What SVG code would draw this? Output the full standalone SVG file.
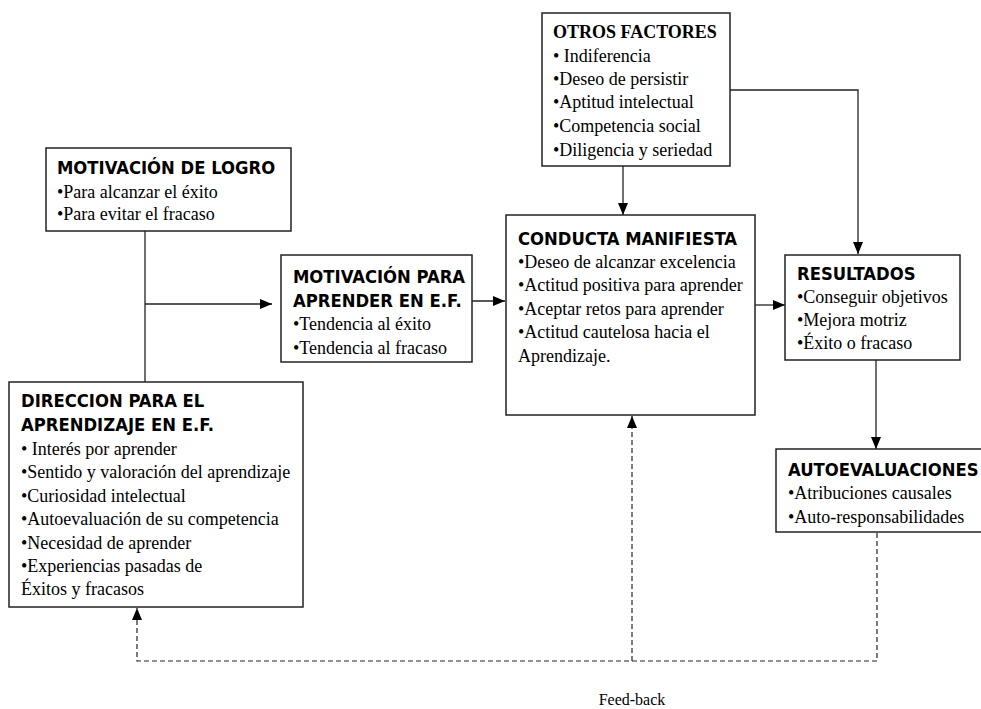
<svg xmlns="http://www.w3.org/2000/svg" width="981" height="709" viewBox="0 0 981 709">
<defs>
<style>
.box{fill:#fff;stroke:#222;stroke-width:1.5}
.t{font-family:"DejaVu Sans Condensed","DejaVu Sans",Verdana,sans-serif;font-stretch:condensed;font-weight:bold;font-size:18.3px;fill:#000}
.ts{font-family:"Liberation Serif","Times New Roman",serif;font-weight:bold;font-size:18px;fill:#000}
.b{font-family:"Liberation Serif","Times New Roman",serif;font-size:18px;fill:#000}
.ln{fill:none;stroke:#222;stroke-width:1.3}
.dl{fill:none;stroke:#222;stroke-width:1.2;stroke-dasharray:5,3}
</style>
<marker id="ah" viewBox="0 0 12 10" refX="12" refY="5" markerWidth="12" markerHeight="10" markerUnits="userSpaceOnUse" orient="auto">
<path d="M0,0 L12,5 L0,10 z" fill="#000"/>
</marker>
</defs>

<g id="connectors">
<line class="ln" x1="145" y1="231" x2="145" y2="382"/>
<line class="ln" x1="145" y1="304" x2="272" y2="304" marker-end="url(#ah)"/>
<line class="ln" x1="472" y1="301" x2="505" y2="301" marker-end="url(#ah)"/>
<line class="ln" x1="623" y1="166" x2="623" y2="215" marker-end="url(#ah)"/>
<polyline class="ln" points="730,90 858,90 858,254" marker-end="url(#ah)"/>
<line class="ln" x1="755" y1="305" x2="785" y2="305" marker-end="url(#ah)"/>
<line class="ln" x1="876" y1="360" x2="876" y2="449" marker-end="url(#ah)"/>
<polyline class="dl" points="877,533 877,661 137,661 137,608" marker-end="url(#ah)"/>
<line class="dl" x1="632" y1="661" x2="632" y2="416" marker-end="url(#ah)"/>
</g>

<g id="otros">
<rect class="box" x="542" y="13" width="188" height="153"/>
<text class="ts" x="553" y="38">OTROS FACTORES</text>
<text class="b" x="553" y="62">• Indiferencia</text>
<text class="b" x="553" y="85">•Deseo de persistir</text>
<text class="b" x="553" y="108">•Aptitud intelectual</text>
<text class="b" x="553" y="132">•Competencia social</text>
<text class="b" x="553" y="156">•Diligencia y seriedad</text>
</g>

<g id="logro">
<rect class="box" x="46" y="148" width="245" height="83"/>
<text class="t" x="57" y="174">MOTIVACIÓN DE LOGRO</text>
<text class="b" x="57" y="198">•Para alcanzar el éxito</text>
<text class="b" x="57" y="220">•Para evitar el fracaso</text>
</g>

<g id="motivacion">
<rect class="box" x="281" y="255" width="191" height="107"/>
<text class="t" x="293" y="283">MOTIVACIÓN PARA</text>
<text class="t" x="293" y="307">APRENDER EN E.F.</text>
<text class="b" x="293" y="330">•Tendencia al éxito</text>
<text class="b" x="293" y="354">•Tendencia al fracaso</text>
</g>

<g id="conducta">
<rect class="box" x="506" y="215" width="249" height="200"/>
<text class="t" x="518" y="245">CONDUCTA MANIFIESTA</text>
<text class="b" x="518" y="268">•Deseo de alcanzar excelencia</text>
<text class="b" x="518" y="291">•Actitud positiva para aprender</text>
<text class="b" x="518" y="315">•Aceptar retos para aprender</text>
<text class="b" x="518" y="338">•Actitud cautelosa hacia el</text>
<text class="b" x="518" y="362">Aprendizaje.</text>
</g>

<g id="resultados">
<rect class="box" x="785" y="255" width="175" height="105"/>
<text class="t" x="797" y="280">RESULTADOS</text>
<text class="b" x="797" y="303">•Conseguir objetivos</text>
<text class="b" x="797" y="326">•Mejora motriz</text>
<text class="b" x="797" y="349">•Éxito o fracaso</text>
</g>

<g id="autoevaluaciones">
<rect class="box" x="776" y="449" width="215" height="83"/>
<text class="t" x="788" y="476">AUTOEVALUACIONES</text>
<text class="b" x="788" y="499">•Atribuciones causales</text>
<text class="b" x="788" y="523">•Auto-responsabilidades</text>
</g>

<g id="direccion">
<rect class="box" x="9" y="382" width="294" height="225"/>
<text class="t" x="21" y="407">DIRECCION PARA EL</text>
<text class="t" x="21" y="431">APRENDIZAJE EN E.F.</text>
<text class="b" x="21" y="455">• Interés por aprender</text>
<text class="b" x="21" y="478">•Sentido y valoración del aprendizaje</text>
<text class="b" x="21" y="502">•Curiosidad intelectual</text>
<text class="b" x="21" y="525">•Autoevaluación de su competencia</text>
<text class="b" x="21" y="549">•Necesidad de aprender</text>
<text class="b" x="21" y="572">•Experiencias pasadas de</text>
<text class="b" x="21" y="595">Éxitos y fracasos</text>
</g>

<text class="b" x="632" y="705" text-anchor="middle" style="font-size:16px">Feed-back</text>
</svg>
